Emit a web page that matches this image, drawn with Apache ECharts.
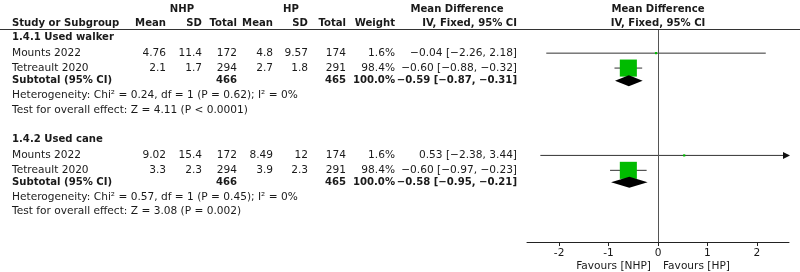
<!DOCTYPE html>
<html>
<head>
<meta charset="utf-8">
<script src="https://cdn.jsdelivr.net/npm/echarts@6/dist/echarts.min.js"></script>
<style>
  html, body { margin: 0; padding: 0; background: #fff; }
  #chart { width: 800px; height: 272px; }
</style>
</head>
<body>
<div id="chart"></div>
<script>
var FONT = 'DejaVu Sans'
var FS = 10.6
var FS_BOLD = 10.1

// data
var groups = ['1.4.1 Used walker', '1.4.2 Used cane']
var studies = ['Mounts 2022', 'Tetreault 2020', 'Mounts 2022', 'Tetreault 2020']
var studyGroup = [0, 0, 1, 1]
var nhpMean = [4.76, 2.1, 9.02, 3.3]
var nhpSd = [11.4, 1.7, 15.4, 2.3]
var nhpTotal = [172, 294, 172, 294]
var hpMean = [4.8, 2.7, 8.49, 3.9]
var hpSd = [9.57, 1.8, 12, 2.3]
var hpTotal = [174, 291, 174, 291]
var weight = [1.6, 98.4, 1.6, 98.4]
var md = [-0.04, -0.60, 0.53, -0.60]
var mdLow = [-2.26, -0.88, -2.38, -0.97]
var mdHigh = [2.18, -0.32, 3.44, -0.23]

// subtotals (one per group)
var subNhpTotal = [466, 466]
var subHpTotal = [465, 465]
var subWeight = [100.0, 100.0]
var subMd = [-0.59, -0.58]
var subLow = [-0.87, -0.95]
var subHigh = [-0.31, -0.21]
var hetChi = ['0.24', '0.57']
var hetDf = [1, 1]
var hetP = ['0.62', '0.45']
var hetI2 = ['0%', '0%']
var testZ = ['4.11', '3.08']
var testP = ['P < 0.0001', 'P = 0.002']

var xTicks = [-2, -1, 0, 1, 2]
var xMin = -2.65
var xMax = 2.65

// vertical slot of each table line: group, study, study, subtotal, heterogeneity, test
var rowSlots = [[0, 1.05, 2.05, 2.9, 3.9, 4.85], [6.85, 7.9, 8.9, 9.7, 10.7, 11.65]]

// table columns (x is the anchor, right aligned except the first one)
var cols = [
  { x: 12, align: 'left' },
  { x: 166, align: 'right' },
  { x: 202, align: 'right' },
  { x: 237, align: 'right' },
  { x: 273, align: 'right' },
  { x: 308, align: 'right' },
  { x: 346, align: 'right' },
  { x: 395, align: 'right' },
  { x: 517, align: 'right' }
]

function neg(s) { return String(s).replace(/-/g, '\u2212') }
function f2(v) { return neg(v.toFixed(2)) }
function ci(m, l, h) { return f2(m) + ' [' + f2(l) + ', ' + f2(h) + ']' }

// build the table lines
var tableRows = []
var studyData = []
var diamondData = []
groups.forEach(function(g, gi) {
  var slots = rowSlots[gi]
  tableRows.push({ slot: slots[0], bold: true, cells: [g] })
  var k = 1
  studies.forEach(function(s, i) {
    if (studyGroup[i] !== gi) return
    tableRows.push({
      slot: slots[k], bold: false,
      cells: [s, String(nhpMean[i]), String(nhpSd[i]), String(nhpTotal[i]),
        String(hpMean[i]), String(hpSd[i]), String(hpTotal[i]),
        weight[i].toFixed(1) + '%', ci(md[i], mdLow[i], mdHigh[i])]
    })
    studyData.push([md[i], slots[k], mdLow[i], mdHigh[i], weight[i]])
    k++
  })
  tableRows.push({
    slot: slots[3], bold: true,
    cells: ['Subtotal (95% CI)', '', '', String(subNhpTotal[gi]), '', '', String(subHpTotal[gi]),
      subWeight[gi].toFixed(1) + '%', ci(subMd[gi], subLow[gi], subHigh[gi])]
  })
  diamondData.push([subMd[gi], slots[3], subLow[gi], subHigh[gi]])
  tableRows.push({
    slot: slots[4], bold: false,
    cells: ['Heterogeneity: Chi\u00B2 = ' + hetChi[gi] + ', df = ' + hetDf[gi] + ' (P = ' + hetP[gi] + '); I\u00B2 = ' + hetI2[gi]]
  })
  tableRows.push({
    slot: slots[5], bold: false,
    cells: ['Test for overall effect: Z = ' + testZ[gi] + ' (' + testP[gi] + ')']
  })
})

function fontOf(bold) {
  return bold ? 'bold ' + FS_BOLD + 'px ' + FONT : FS + 'px ' + FONT
}

function textEl(text, x, y, align, bold) {
  return {
    type: 'text',
    style: {
      text: text, x: x, y: y,
      align: align, verticalAlign: 'middle',
      font: fontOf(bold),
      fill: '#1a1a1a'
    }
  }
}

function renderTable(params, api) {
  var row = tableRows[api.value(2)]
  var y = api.coord([0, api.value(1)])[1]
  var children = []
  row.cells.forEach(function(c, i) {
    if (c === '') return
    children.push(textEl(c, cols[i].x, y, cols[i].align, row.bold))
  })
  return { type: 'group', children: children }
}

function renderStudy(params, api) {
  var y = api.coord([0, api.value(1)])[1]
  var lo = api.value(2)
  var hi = api.value(3)
  var xl = api.coord([Math.max(lo, xMin), 0])[0]
  var xh = api.coord([Math.min(hi, xMax), 0])[0]
  var xc = api.coord([api.value(0), 0])[0]
  var side = 1.72 * Math.sqrt(api.value(4))
  var children = [{
    type: 'line',
    shape: { x1: xl, y1: y, x2: xh, y2: y },
    style: { stroke: '#333', lineWidth: 1 }
  }]
  if (hi > xMax) {
    children.push({
      type: 'polygon',
      shape: { points: [[xh + 1, y], [xh - 6, y - 3.5], [xh - 6, y + 3.5]] },
      style: { fill: '#111' }
    })
  }
  children.push({
    type: 'rect',
    shape: { x: xc - side / 2, y: y - side / 2, width: side, height: side },
    style: { fill: '#00bb00' }
  })
  return { type: 'group', children: children }
}

function renderDiamond(params, api) {
  var y = api.coord([0, api.value(1)])[1]
  var xl = api.coord([api.value(2), 0])[0]
  var xh = api.coord([api.value(3), 0])[0]
  var xc = api.coord([api.value(0), 0])[0]
  var h = 5.5
  return {
    type: 'polygon',
    shape: { points: [[xl, y], [xc, y - h], [xh, y], [xc, y + h]] },
    style: { fill: '#000' }
  }
}

var chart = echarts.init(document.getElementById('chart'))

function header(text, x, y, align) {
  return {
    type: 'text', x: x, y: y,
    style: { text: text, align: align, verticalAlign: 'middle', font: fontOf(true), fill: '#1a1a1a' }
  }
}

var option = {
  animation: false,
  grid: { left: 527, right: 11, top: 30, bottom: 30 },
  xAxis: {
    type: 'value',
    min: xMin,
    max: xMax,
    splitLine: { show: false },
    axisLine: { show: true, onZero: false, lineStyle: { color: '#222', width: 1 } },
    axisTick: { show: true, customValues: xTicks, length: 4, lineStyle: { color: '#222' } },
    axisLabel: {
      show: true, customValues: xTicks, margin: 6, color: '#1a1a1a',
      fontFamily: FONT, fontSize: FS
    }
  },
  yAxis: {
    type: 'value',
    inverse: true,
    min: -0.5,
    max: 13.7,
    show: false
  },
  series: [
    {
      type: 'custom',
      name: 'table',
      clip: false,
      silent: true,
      renderItem: renderTable,
      data: tableRows.map(function(r, i) { return [0, r.slot, i] }),
      markLine: {
        silent: true,
        symbol: 'none',
        label: { show: false },
        lineStyle: { color: '#555', width: 1, type: 'solid' },
        data: [{ xAxis: 0 }]
      }
    },
    {
      type: 'custom',
      name: 'studies',
      clip: false,
      silent: true,
      renderItem: renderStudy,
      data: studyData
    },
    {
      type: 'custom',
      name: 'subtotals',
      clip: false,
      silent: true,
      renderItem: renderDiamond,
      data: diamondData
    }
  ]
}
chart.setOption(option)

// header & footer text, placed around the zero line of the axis
var zeroX = chart.convertToPixel({ xAxisIndex: 0 }, 0)
chart.setOption({
  graphic: [
    header('NHP', 182, 9, 'center'),
    header('HP', 291, 9, 'center'),
    header('Mean Difference', 457, 9, 'center'),
    header('Mean Difference', zeroX, 9, 'center'),
    header('Study or Subgroup', 12, 23, 'left'),
    header('Mean', 166, 23, 'right'),
    header('SD', 202, 23, 'right'),
    header('Total', 237, 23, 'right'),
    header('Mean', 273, 23, 'right'),
    header('SD', 308, 23, 'right'),
    header('Total', 346, 23, 'right'),
    header('Weight', 395, 23, 'right'),
    header('IV, Fixed, 95% CI', 517, 23, 'right'),
    header('IV, Fixed, 95% CI', zeroX, 23, 'center'),
    {
      type: 'line',
      shape: { x1: 0, y1: 29.5, x2: 800, y2: 29.5 },
      style: { stroke: '#333', lineWidth: 1 }
    },
    {
      type: 'text', x: zeroX - 7, y: 266,
      style: { text: 'Favours [NHP]', align: 'right', verticalAlign: 'middle', font: fontOf(false), fill: '#1a1a1a' }
    },
    {
      type: 'text', x: zeroX + 5, y: 266,
      style: { text: 'Favours [HP]', align: 'left', verticalAlign: 'middle', font: fontOf(false), fill: '#1a1a1a' }
    }
  ]
})

window.addEventListener('resize', function() {
  chart.resize()
})
</script>
</body>
</html>
